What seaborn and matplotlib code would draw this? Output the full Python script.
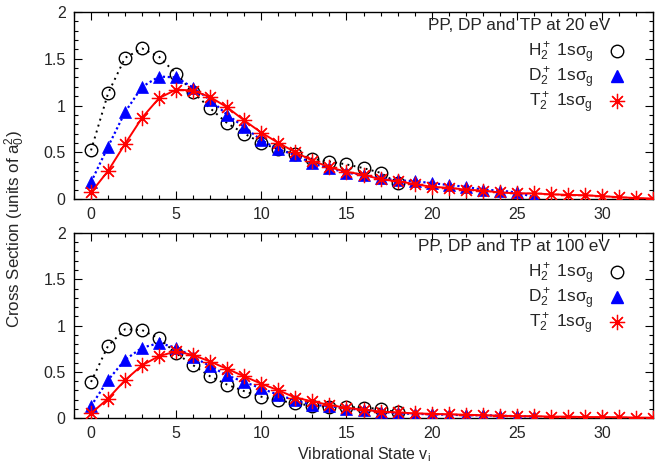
import numpy as np
import pandas as pd
import matplotlib
matplotlib.use("Agg")
import matplotlib.pyplot as plt
from matplotlib.lines import Line2D
from matplotlib.ticker import MultipleLocator, FormatStrFormatter
import matplotlib.transforms as mtransforms
import seaborn as sns

# ---- data ----
v_h = list(range(0, 19))
v_d = list(range(0, 27))
v_t = list(range(0, 34))

h2_20 = [0.52, 1.13, 1.51, 1.61, 1.52, 1.34, 1.14, 0.97, 0.81, 0.70, 0.60, 0.53, 0.48,
         0.43, 0.40, 0.37, 0.33, 0.28, 0.17]
d2_20 = [0.18, 0.56, 0.93, 1.20, 1.31, 1.30, 1.19, 1.06, 0.90, 0.77, 0.63, 0.53, 0.47,
         0.38, 0.33, 0.28, 0.26, 0.22, 0.20, 0.19, 0.17, 0.15, 0.13, 0.10, 0.09, 0.07, 0.02]
t2_20 = [0.07, 0.30, 0.59, 0.87, 1.08, 1.17, 1.16, 1.09, 0.98, 0.84, 0.71, 0.60, 0.50,
         0.41, 0.34, 0.29, 0.26, 0.21, 0.19, 0.16, 0.13, 0.12, 0.10, 0.09, 0.07, 0.06,
         0.06, 0.05, 0.045, 0.04, 0.03, 0.02, 0.01, 0.005]

h2_100 = [0.39, 0.78, 0.96, 0.95, 0.86, 0.70, 0.57, 0.45, 0.36, 0.29, 0.23, 0.19, 0.16,
          0.13, 0.12, 0.12, 0.11, 0.10, 0.06]
d2_100 = [0.13, 0.41, 0.63, 0.76, 0.81, 0.76, 0.66, 0.56, 0.46, 0.39, 0.32, 0.25, 0.19,
          0.14, 0.13, 0.10, 0.09, 0.07, 0.05, 0.045, 0.04, 0.035, 0.03, 0.03, 0.025, 0.02, 0.015]
t2_100 = [0.05, 0.21, 0.41, 0.57, 0.67, 0.72, 0.68, 0.61, 0.53, 0.45, 0.37, 0.30, 0.22,
          0.18, 0.14, 0.11, 0.09, 0.07, 0.06, 0.05, 0.045, 0.04, 0.035, 0.03, 0.025, 0.02,
          0.02, 0.015, 0.015, 0.01, 0.01, 0.008, 0.005, 0.003]

titles = ["PP, DP and TP at 20 eV", "PP, DP and TP at 100 eV"]
labels = [r"H$_2^+$ 1s$\sigma_{\rm g}$", r"D$_2^+$ 1s$\sigma_{\rm g}$", r"T$_2^+$ 1s$\sigma_{\rm g}$"]
xticks = [0, 5, 10, 15, 20, 25, 30]
yticks = [0, 0.5, 1, 1.5, 2]

# ---- style ----
sns.set_style("ticks")
plt.rcParams["font.family"] = ["Liberation Sans", "DejaVu Sans"]
plt.rcParams["mathtext.fontset"] = "custom"
plt.rcParams["mathtext.rm"] = "Liberation Sans"
plt.rcParams["mathtext.it"] = "Liberation Sans"
plt.rcParams["mathtext.sf"] = "Liberation Sans"
FS = 11.5
FS_LEG = 12.4

W, H = 657, 470
fig = plt.figure(figsize=(W / 100, H / 100), dpi=100)
L, R = 74 / W, 653 / W
ax1 = fig.add_axes([L, 1 - 199 / H, R - L, (199 - 12) / H])
ax2 = fig.add_axes([L, 1 - 418 / H, R - L, (418 - 233) / H])

mk_sz = 9
star = (8, 2, 0)

def draw(ax, h, d, t, title):
    sns.lineplot(x=v_h, y=h, ax=ax, color="black", linestyle=(0, (1, 2.2)), linewidth=1.4,
                 marker="o", markersize=mk_sz, markerfacecolor="none",
                 markeredgecolor="black", markeredgewidth=1.0, zorder=3)
    sns.lineplot(x=v_d, y=d, ax=ax, color="blue", linestyle=(0, (1, 1.2)), linewidth=1.6,
                 marker="^", markersize=mk_sz, markerfacecolor="blue",
                 markeredgecolor="blue", markeredgewidth=0.5, zorder=4)
    sns.lineplot(x=v_t, y=t, ax=ax, color="red", linestyle="-", linewidth=1.4,
                 marker=star, markersize=mk_sz + 2, markerfacecolor="red",
                 markeredgecolor="red", markeredgewidth=0.9, zorder=5)
    ax.set_xlim(-1, 33)
    ax.set_ylim(0, 2)
    ax.xaxis.set_minor_locator(MultipleLocator(1))
    ax.yaxis.set_minor_locator(MultipleLocator(0.1))
    ax.set_xticks(xticks)
    ax.set_yticks(yticks)
    ax.yaxis.set_major_formatter(FormatStrFormatter("%g"))
    ax.tick_params(which="both", direction="in", top=True, right=True, labelsize=FS,
                   color="black", width=0.8)
    ax.tick_params(which="major", length=6, pad=6)
    ax.tick_params(which="minor", length=3)
    for s in ax.spines.values():
        s.set_visible(True)
        s.set_linewidth(1.0)
        s.set_color("black")
    ax.set_xlabel("")
    ax.set_ylabel("")
    # legend title as a text, right aligned at x=610 px, ~14 px below axes top
    trans = mtransforms.blended_transform_factory(fig.transFigure, ax.transAxes)
    off = mtransforms.ScaledTranslation(0, -14 / 100, fig.dpi_scale_trans)
    ax.text(610 / W, 1.0, title, transform=trans + off, ha="right", va="center",
            fontsize=FS_LEG)
    handles = [
        Line2D([], [], ls="none", marker="o", markersize=mk_sz, markerfacecolor="none",
               markeredgecolor="black", markeredgewidth=1.0),
        Line2D([], [], ls="none", marker="^", markersize=mk_sz, color="blue"),
        Line2D([], [], ls="none", marker=star, markersize=mk_sz + 2, color="red",
               markeredgewidth=0.9),
    ]
    ax_h = ax.get_position().height * H
    ax.legend(handles, labels, loc="upper right",
              bbox_to_anchor=((632 - 74) / 579, 1 - 22 / ax_h), frameon=False,
              markerfirst=False, fontsize=FS_LEG, handlelength=1.0, handletextpad=0.85,
              labelspacing=0.02, borderaxespad=0.0)

draw(ax1, h2_20, d2_20, t2_20, titles[0])
draw(ax2, h2_100, d2_100, t2_100, titles[1])

ax2.set_xlabel(r"Vibrational State v$_{\rm i}$", fontsize=FS, labelpad=3)
fig.text(15 / W, 1 - 229 / H, r"Cross Section (units of a$_0^2$)", rotation=90,
         ha="center", va="center", fontsize=12.2)

fig.savefig("out.png", dpi=100)
